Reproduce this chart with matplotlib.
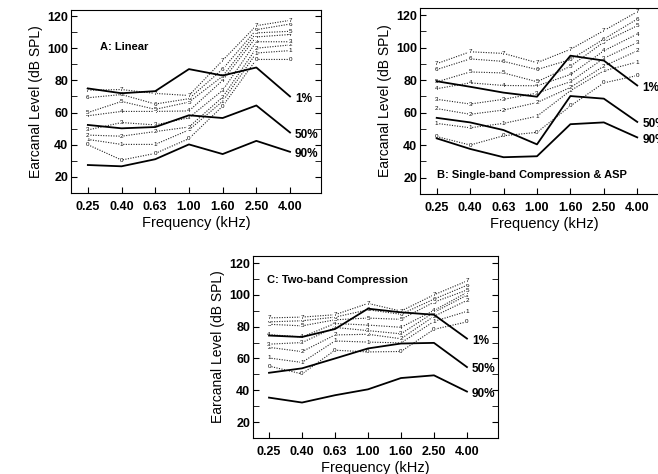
import matplotlib
matplotlib.use('Agg')
import matplotlib.pyplot as plt
import numpy as np

plt.rcParams['font.family'] = ['Liberation Sans', 'DejaVu Sans']

freqs = ['0.25', '0.40', '0.63', '1.00', '1.60', '2.50', '4.00']
pct_names = ['1%', '50%', '90%']

# Panel A: Linear
a_solid = [
    [75, 72, 73.3, 87, 83, 88, 70],
    [52.3, 50.2, 51, 58.3, 56.6, 64.4, 47.6],
    [27.4, 26.6, 31, 40.2, 34.2, 42.4, 35.6],
]
a_dot = [
    [40, 30.5, 34.6, 43.8, 64, 93, 93],
    [43.3, 40.2, 40.2, 49.2, 67, 97, 98.5],
    [46, 45.3, 48.2, 51, 69.6, 100, 102],
    [49.2, 53.8, 52.3, 56.8, 73.8, 104, 104],
    [58, 60.7, 60.7, 61, 80, 107, 108.5],
    [60, 66.9, 62, 66.5, 82.6, 109.5, 110.5],
    [69.2, 71.2, 65.3, 68.6, 87, 111.5, 115],
    [73.9, 74.3, 71.9, 70.6, 92.4, 114, 117.3],
]

# Panel B: single-band compression & ASP
b_solid = [
    [79.3, 75.9, 72.3, 69.8, 95, 92, 76.7],
    [56.8, 54, 49.3, 40.5, 70.2, 68.6, 54.3],
    [44.2, 37.7, 32.6, 33.2, 52.9, 54, 44.8],
]
b_dot = [
    [45.3, 40.1, 45.8, 47.9, 64.1, 78.3, 82.8],
    [53.4, 50.7, 53.4, 57.8, 73.5, 85.7, 91.1],
    [62.5, 59, 61.6, 66.2, 75.5, 88.6, 98],
    [68.2, 65.3, 68.2, 72, 79, 93.4, 103.1],
    [74.7, 78.3, 76.7, 76.5, 83.4, 98, 108.3],
    [78.9, 85, 84.4, 79, 88.5, 103.4, 113.4],
    [86.5, 93, 91.5, 86.5, 92.6, 105.2, 117.5],
    [90.1, 97.4, 96.4, 90.7, 98.9, 110.4, 122],
]

# Panel C: two-band compression
c_solid = [
    [74.4, 73.5, 78.5, 91.3, 89, 87.5, 72.5],
    [51, 53.8, 60, 66.3, 69.4, 69.8, 54.6],
    [35.4, 32.3, 36.9, 40.6, 47.7, 49.4, 39.2],
]
c_dot = [
    [55.2, 50.3, 65.2, 64.1, 64.4, 78.3, 83],
    [60.3, 57.5, 71, 70.3, 69.8, 83.3, 89.6],
    [67, 64.3, 74.8, 75.2, 72.4, 86.5, 96.5],
    [69, 70, 79.5, 77.5, 75.5, 89, 99.8],
    [75, 73.5, 82, 81, 79.6, 90.2, 101.5],
    [81.5, 80.5, 84.3, 85.4, 84.6, 95.4, 103],
    [83, 83.7, 86, 90.6, 87.8, 97.3, 106],
    [85.5, 86, 87.5, 94.6, 89.8, 100, 108.7],
]


def draw_panel(ax, solid, dotted, title, tx, ty, ylim, xlim):
    x = np.arange(len(freqs))
    for k, vals in enumerate(dotted):
        ax.plot(x, vals, linestyle=(0, (1, 1.3)), lw=0.8, color='#222222', zorder=1)
        for xi, v in zip(x, vals):
            ax.text(xi, v, str(k), fontsize=4.5, ha='center', va='center', zorder=2,
                    bbox=dict(facecolor='white', edgecolor='none', pad=0.1))
    for name, vals in zip(pct_names, solid):
        ax.plot(x, vals, color='black', lw=1.3, zorder=3)
        ax.text(x[-1] + 0.15, vals[-1] - 1.5, name, fontsize=8.5, fontweight='bold',
                ha='left', va='center', zorder=4)
    ax.text(tx, ty, title, fontsize=8, fontweight='bold', ha='left', va='center')
    ax.set_xlim(*xlim)
    ax.set_ylim(*ylim)
    ax.set_xticks(x)
    ax.set_xticklabels(freqs)
    ax.set_yticks(np.arange(20, 121, 20))
    ax.set_yticks(np.arange(10, 121, 10), minor=True)
    ax.tick_params(axis='x', direction='in', length=4, pad=6, labelsize=9)
    ax.tick_params(axis='y', which='both', direction='in', length=4, right=True, pad=2,
                   labelsize=9)
    for lab in ax.get_xticklabels() + ax.get_yticklabels():
        lab.set_fontweight('bold')
    ax.set_xlabel('Frequency (kHz)', fontsize=10.5, labelpad=2)
    ax.set_ylabel('Earcanal Level (dB SPL)', fontsize=10, labelpad=3)


fig = plt.figure(figsize=(6.58, 4.74), dpi=100)
ax_a = fig.add_axes([0.1079, 0.5928, 0.380, 0.386])
ax_b = fig.add_axes([0.6383, 0.5907, 0.3769, 0.3924])
ax_c = fig.add_axes([0.3845, 0.0759, 0.3723, 0.384])

draw_panel(ax_a, a_solid, a_dot, 'A: Linear', 0.36, 101, (10.7, 123.7), (-0.5, 6.92))
draw_panel(ax_b, b_solid, b_dot, 'B: Single-band Compression & ASP', 0.0, 21.8,
           (10.9, 124.3), (-0.5, 6.92))
draw_panel(ax_c, c_solid, c_dot, 'C: Two-band Compression', -0.06, 109.4,
           (10.6, 124.4), (-0.485, 6.94))

fig.savefig('out.png', dpi=100)
